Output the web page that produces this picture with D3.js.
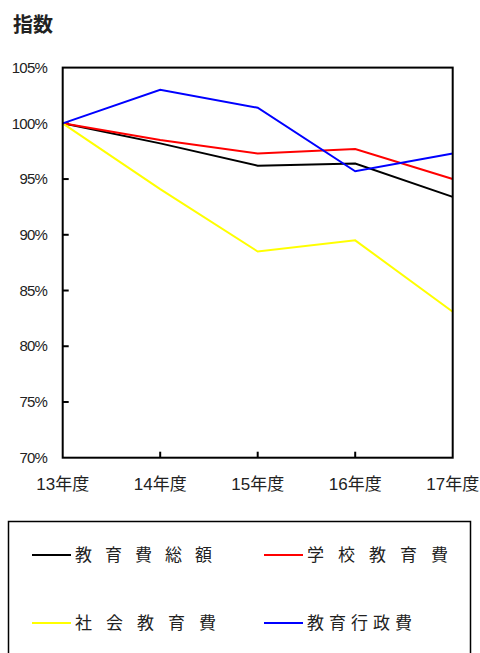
<!DOCTYPE html>
<html>
<head>
<meta charset="utf-8">
<script src="https://cdn.jsdelivr.net/npm/d3@7"></script>
<style>
  body { margin: 0; background: #fff; }
  svg { display: block; }
</style>
</head>
<body>
<div id="chart"></div>
<script>
// 指数 chart, 13年度 = 100%

const years = ["13年度", "14年度", "15年度", "16年度", "17年度"];
const yTicks = [70, 75, 80, 85, 90, 95, 100, 105];
const seriesNames = ["教育費総額", "学校教育費", "社会教育費", "教育行政費"];
const totalEdu = [100, 98.2, 96.2, 96.4, 93.4];
const schoolEdu = [100, 98.5, 97.3, 97.7, 95.0];
const socialEdu = [100, 94.1, 88.5, 89.5, 83.1];
const adminEdu = [100, 103.0, 101.4, 95.7, 97.3];

const seriesColors = ["#000000", "#ff0000", "#ffff00", "#0000ff"];
// legend spacing per label (visual only)
const legendSpacing = [13, 14, 14, 5];

const width = 480, height = 653;
const margin = {top: 67.6, right: 27.3, bottom: 195.3, left: 62.7};

const series = seriesNames.map((name, i) => ({
  name,
  values: [totalEdu, schoolEdu, socialEdu, adminEdu][i],
  color: seriesColors[i]
}));

const svg = d3.select("#chart").append("svg")
    .attr("width", width)
    .attr("height", height);

const x = d3.scalePoint()
    .domain(years)
    .range([margin.left, width - margin.right]);

const y = d3.scaleLinear()
    .domain([70, 105])
    .range([height - margin.bottom, margin.top]);

// title
svg.append("text")
    .attr("x", 13)
    .attr("y", 32)
    .attr("font-family", "'Noto Sans CJK JP', sans-serif")
    .attr("font-weight", "bold")
    .attr("font-size", 20)
    .attr("fill", "#222")
    .text("指数");

// y axis labels + inward ticks
svg.append("g")
  .selectAll("text")
  .data(yTicks)
  .join("text")
    .attr("x", 47)
    .attr("y", d => y(d))
    .attr("dy", "0.35em")
    .attr("text-anchor", "end")
    .attr("font-family", "'Liberation Sans', Arial, sans-serif")
    .attr("font-size", 15)
    .attr("letter-spacing", -0.8)
    .attr("fill", "#222")
    .text(d => d + "%");

svg.append("g")
  .selectAll("line")
  .data(yTicks.slice(1, -1))
  .join("line")
    .attr("x1", margin.left)
    .attr("x2", margin.left + 6)
    .attr("y1", d => y(d))
    .attr("y2", d => y(d))
    .attr("stroke", "#000")
    .attr("stroke-width", 2);

// x axis labels + inward ticks
svg.append("g")
  .selectAll("text")
  .data(years)
  .join("text")
    .attr("x", d => x(d))
    .attr("y", 490)
    .attr("text-anchor", "middle")
    .attr("font-family", "'Liberation Sans', Arial, 'Noto Sans CJK JP', sans-serif")
    .attr("font-size", 17)
    .attr("fill", "#222")
    .text(d => d);

svg.append("g")
  .selectAll("line")
  .data(years.slice(1, -1))
  .join("line")
    .attr("x1", d => x(d))
    .attr("x2", d => x(d))
    .attr("y1", y(70))
    .attr("y2", y(70) - 6)
    .attr("stroke", "#000")
    .attr("stroke-width", 2);

// lines
const line = d3.line()
    .x((d, i) => x(years[i]))
    .y(d => y(d));

svg.append("g")
    .attr("fill", "none")
    .attr("stroke-width", 2)
    .attr("stroke-linejoin", "miter")
  .selectAll("path")
  .data(series)
  .join("path")
    .attr("stroke", d => d.color)
    .attr("d", d => line(d.values));

// frame
svg.append("rect")
    .attr("x", margin.left)
    .attr("y", y(105))
    .attr("width", x(years[4]) - margin.left)
    .attr("height", y(70) - y(105))
    .attr("fill", "none")
    .attr("stroke", "#000")
    .attr("stroke-width", 2);

// legend
svg.append("rect")
    .attr("x", 8.5)
    .attr("y", 521.5)
    .attr("width", 462)
    .attr("height", 140)
    .attr("fill", "none")
    .attr("stroke", "#000")
    .attr("stroke-width", 1.5);

const legend = svg.append("g")
  .selectAll("g")
  .data(series)
  .join("g")
    .attr("transform", (d, i) => `translate(${i % 2 ? 264 : 32},${i < 2 ? 555 : 623})`);

legend.append("line")
    .attr("x1", 0)
    .attr("x2", 39)
    .attr("stroke", d => d.color)
    .attr("stroke-width", 2);

legend.append("text")
    .attr("x", 43)
    .attr("dy", "0.36em")
    .attr("font-family", "'Noto Sans CJK JP', sans-serif")
    .attr("font-size", 17)
    .attr("letter-spacing", (d, i) => legendSpacing[i])
    .attr("fill", "#222")
    .text(d => d.name);
</script>
</body>
</html>
